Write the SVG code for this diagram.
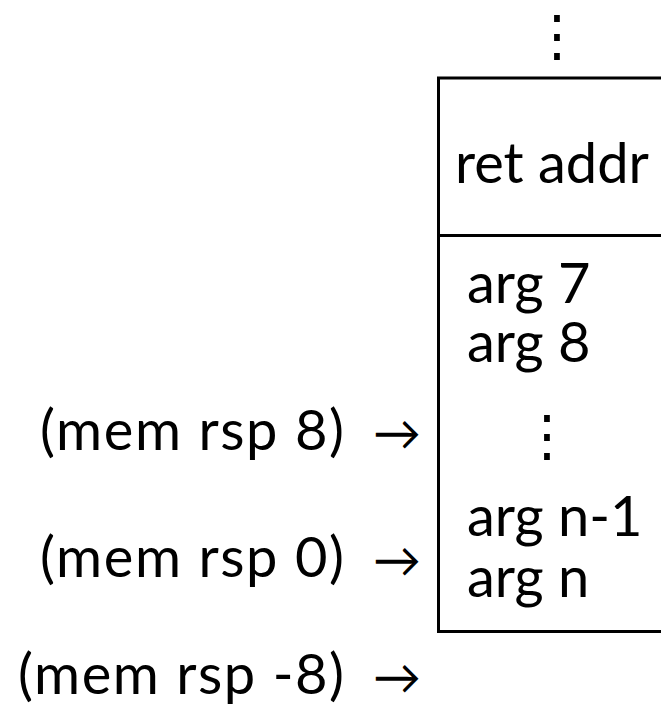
<svg xmlns="http://www.w3.org/2000/svg" width="661" height="717" viewBox="0 0 661 717">
<style>
text{font-family:Lato,"Open Sans","Liberation Sans",sans-serif;font-size:56px;fill:#000}
.dots{font-family:"DejaVu Sans",sans-serif;text-anchor:middle}
.arr{font-size:48px}
.ln{stroke:#000;stroke-width:3;fill:none}
</style>
<rect width="661" height="717" fill="#fff"/>
<g id="frame">
<path class="ln" d="M438.5 78 V633 M437 78 H661 M437 235.5 H661 M437 631.5 H661"/>
</g>
<g id="top-dots"><text class="dots" x="557" y="55">⋮</text></g>
<g id="ret"><text x="455" y="183">ret addr</text></g>
<g id="args">
<text x="467" y="303">arg 7</text>
<text x="467" y="362">arg 8</text>
<text class="dots" x="547" y="455">⋮</text>
<text x="467" y="536">arg n-1</text>
<text x="467" y="597">arg n</text>
</g>
<g id="labels">
<text x="40" y="450" textLength="304" lengthAdjust="spacing">(mem rsp 8)</text>
<text x="40" y="577" textLength="304" lengthAdjust="spacing">(mem rsp 0)</text>
<text x="18" y="694" textLength="326" lengthAdjust="spacing">(mem rsp -8)</text>
</g>
<g id="connectors">
<text class="arr" x="373" y="450">→</text>
<text class="arr" x="373" y="577">→</text>
<text class="arr" x="373" y="694">→</text>
</g>
</svg>
